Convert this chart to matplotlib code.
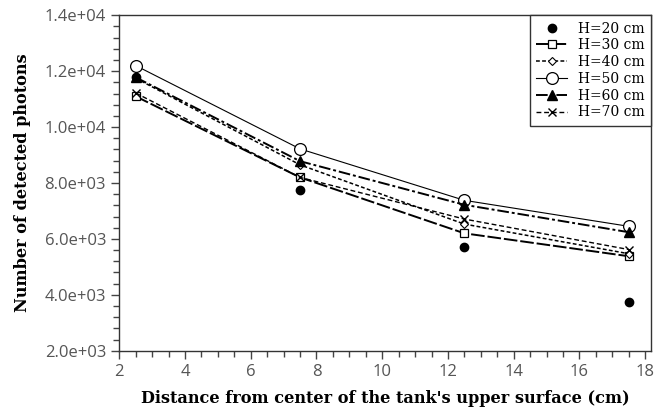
import numpy as np
import matplotlib.pyplot as plt
from matplotlib.ticker import MultipleLocator, FuncFormatter

# distance from center of tank surface (cm)
distance = [2.5, 7.5, 12.5, 17.5]

# detected photons for each height H
h20 = [11800, 7750, 5700, 3750]
h30 = [11100, 8200, 6200, 5380]
h40 = [11750, 8650, 6530, 5470]
h50 = [12200, 9220, 7380, 6450]
h60 = [11780, 8780, 7220, 6240]
h70 = [11220, 8200, 6710, 5620]

labels = ['H=20 cm', 'H=30 cm', 'H=40 cm', 'H=50 cm', 'H=60 cm', 'H=70 cm']

fig = plt.figure(figsize=(6.57, 4.17), dpi=100)
ax = fig.add_axes([0.1816, 0.159, 0.8093, 0.8043])

k = 'black'
ax.plot(distance, h20, linestyle='none', marker='o', ms=6, color=k, label=labels[0])
ax.plot(distance, h30, linestyle=(0, (7, 1.5)), lw=1.4, marker='s', ms=6,
        mfc='white', mec=k, mew=0.9, color=k, label=labels[1])
ax.plot(distance, h40, linestyle=(0, (2.5, 1.5)), lw=1.1, marker='D', ms=4,
        mfc='white', mec=k, mew=0.8, color=k, label=labels[2])
ax.plot(distance, h50, linestyle='-', lw=0.8, marker='o', ms=8.5,
        mfc='white', mec=k, mew=0.9, color=k, label=labels[3])
ax.plot(distance, h60, linestyle=(0, (6, 1.5, 1.5, 1.5)), lw=1.4, marker='^', ms=7,
        color=k, label=labels[4])
ax.plot(distance, h70, linestyle=(0, (3.5, 2)), lw=1.0, marker='x', ms=6,
        mew=1.0, color=k, label=labels[5])

ax.set_xlim(2, 18.18)
ax.set_ylim(2000, 14000)
ax.xaxis.set_major_locator(MultipleLocator(2))
ax.xaxis.set_minor_locator(MultipleLocator(0.5))
ax.yaxis.set_major_locator(MultipleLocator(2000))
ax.yaxis.set_minor_locator(MultipleLocator(400))
ax.yaxis.set_major_formatter(FuncFormatter(lambda v, p: '{:.1e}'.format(v)))

ax.tick_params(which='major', direction='out', length=6, width=1, color='#444444',
               labelsize=12, labelcolor='#555555')
ax.tick_params(which='minor', direction='out', length=4, width=1, color='#444444')
for t in ax.get_xticklabels() + ax.get_yticklabels():
    t.set_family('Open Sans')
for s in ax.spines.values():
    s.set_color('#333333')
    s.set_linewidth(1)

ax.set_xlabel("Distance from center of the tank's upper surface (cm)",
              family='DejaVu Serif', fontweight='bold', fontsize=11.6, labelpad=7)
ax.set_ylabel('Number of detected photons',
              family='DejaVu Serif', fontweight='bold', fontsize=11.6, labelpad=10)

leg = ax.legend(loc='upper right', borderaxespad=0, fancybox=False, framealpha=1,
                edgecolor='#333333', prop={'family': 'DejaVu Serif', 'size': 10},
                handlelength=2.2, labelspacing=0.2, borderpad=0.45)
leg.get_frame().set_linewidth(1)

plt.savefig('out.png', dpi=100)
